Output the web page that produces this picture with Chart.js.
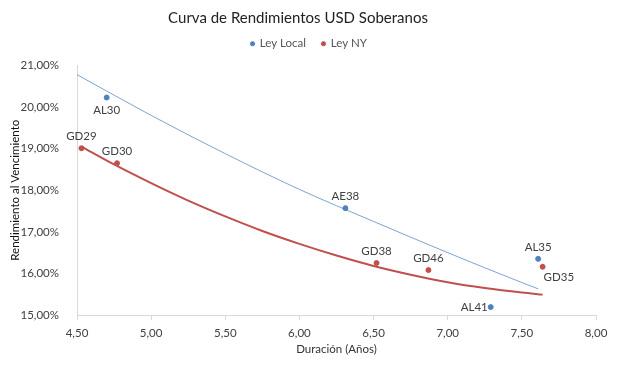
<!DOCTYPE html>
<html>
<head>
<meta charset="utf-8">
<script src="https://cdn.jsdelivr.net/npm/chart.js@4.4.1/dist/chart.umd.min.js"></script>
<style>
  html, body { margin: 0; padding: 0; background: #fff; }
  #wrap { width: 617px; height: 367px; }
</style>
</head>
<body>
<div id="wrap"><canvas id="yieldChart" width="617" height="367"></canvas></div>
<script>
// Bonos ley local
const bondsLocal = ["AL30", "AE38", "AL35", "AL41"];
const durLocal = [4.70, 6.31, 7.61, 7.29];
const ytmLocal = [20.23, 17.57, 16.35, 15.19];
const posLocal = ["below", "above", "above", "left"];

// Bonos ley NY
const bondsNY = ["GD29", "GD30", "GD38", "GD46", "GD35"];
const durNY = [4.53, 4.77, 6.52, 6.87, 7.64];
const ytmNY = [19.01, 18.65, 16.25, 16.08, 16.16];
const posNY = ["above", "above", "above", "above", "belowRight"];

// Curvas de tendencia
const trendLocalX = [4.50, 5.00, 5.50, 6.00, 6.50, 7.00, 7.50, 7.61];
const trendLocalY = [20.78, 19.80, 18.88, 18.02, 17.25, 16.50, 15.78, 15.63];
const trendNYX = [4.53, 4.75, 5.00, 5.25, 5.50, 5.75, 6.00, 6.25, 6.50, 6.75, 7.00, 7.25, 7.50, 7.64];
const trendNYY = [19.05, 18.62, 18.17, 17.75, 17.37, 17.02, 16.71, 16.43, 16.18, 15.97, 15.79, 15.65, 15.54, 15.49];

const xTicks = [4.5, 5, 5.5, 6, 6.5, 7, 7.5, 8];

const FONT = "Lato, 'Open Sans', sans-serif";
const BLUE = "#4f81bd";
const RED = "#c0504d";

function toPoints(xs, ys) {
    return xs.map((x, i) => ({ x: x, y: ys[i] }));
}

// espacio extra bajo la leyenda, y la centra un poco mas a la derecha
const legendGap = {
    id: "legendGap",
    beforeLayout(chart) {
        const lg = chart.legend;
        if (lg && !lg._gapDone) {
            const fit = lg.fit;
            lg.fit = function () {
                fit.call(this);
                this.height += 6;
                if (this.lineWidths && this.lineWidths.length) this.lineWidths[0] -= 22;
            };
            lg._gapDone = true;
        }
    }
};

// etiquetas de cada punto
const pointLabels = {
    id: "pointLabels",
    afterDatasetsDraw(chart) {
        const ctx = chart.ctx;
        const sets = [[bondsLocal, posLocal], [bondsNY, posNY]];
        ctx.save();
        ctx.font = "11.5px " + FONT;
        ctx.fillStyle = "#404040";
        sets.forEach(([names, pos], di) => {
            chart.getDatasetMeta(di).data.forEach((pt, i) => {
                let x = pt.x, y = pt.y;
                ctx.textAlign = "center";
                ctx.textBaseline = "middle";
                if (pos[i] === "above") y -= 12;
                else if (pos[i] === "below") y += 13;
                else if (pos[i] === "left") { ctx.textAlign = "right"; x -= 3; }
                else if (pos[i] === "belowRight") { ctx.textAlign = "left"; x += 1; y += 11; }
                ctx.fillText(names[i], x, y);
            });
        });
        ctx.restore();
    }
};

new Chart(document.getElementById("yieldChart"), {
    type: "scatter",
    data: {
        datasets: [
            {
                label: "Ley Local",
                data: toPoints(durLocal, ytmLocal),
                backgroundColor: BLUE,
                borderColor: BLUE,
                pointRadius: 2.5,
                order: 1
            },
            {
                label: "Ley NY",
                data: toPoints(durNY, ytmNY),
                backgroundColor: RED,
                borderColor: RED,
                pointRadius: 2.5,
                order: 1
            },
            {
                label: "Tendencia Local",
                data: toPoints(trendLocalX, trendLocalY),
                type: "line",
                showLine: true,
                borderColor: "#7da3d2",
                borderWidth: 1,
                pointRadius: 0,
                cubicInterpolationMode: "monotone",
                fill: false,
                order: 2
            },
            {
                label: "Tendencia NY",
                data: toPoints(trendNYX, trendNYY),
                type: "line",
                showLine: true,
                borderColor: RED,
                borderWidth: 2,
                pointRadius: 0,
                cubicInterpolationMode: "monotone",
                fill: false,
                order: 2
            }
        ]
    },
    options: {
        responsive: false,
        animation: false,
        layout: { padding: { top: 0, right: 21, bottom: 0, left: 0 } },
        plugins: {
            title: {
                display: true,
                text: "Curva de Rendimientos USD Soberanos",
                color: "#222",
                font: { family: FONT, size: 15, weight: "normal" },
                padding: { top: 9, bottom: -5 }
            },
            legend: {
                display: true,
                labels: {
                    filter: item => item.datasetIndex < 2,
                    usePointStyle: true,
                    pointStyle: "circle",
                    boxWidth: 3,
                    boxHeight: 3,
                    color: "#555",
                    padding: 16,
                    font: { family: FONT, size: 11.5 }
                }
            },
            tooltip: { enabled: false }
        },
        scales: {
            x: {
                type: "linear",
                min: 4.5,
                max: 8,
                afterBuildTicks: s => { s.ticks = xTicks.map(v => ({ value: v })); },
                afterFit: s => { s.height = 52; },
                grid: { display: true, drawOnChartArea: false, drawTicks: true, tickLength: 5, color: "#d9d9d9" },
                border: { display: true, color: "#d9d9d9" },
                ticks: {
                    color: "#404040",
                    padding: 6,
                    maxRotation: 0,
                    font: { family: FONT, size: 11.5 },
                    callback: v => v.toFixed(2).replace(".", ",")
                },
                title: {
                    display: true,
                    text: "Duración (Años)",
                    color: "#333",
                    font: { family: FONT, size: 11.5 },
                    padding: { top: 0, bottom: 11 }
                }
            },
            y: {
                min: 15,
                max: 21,
                afterFit: s => { s.width = 77; },
                grid: { display: false },
                border: { display: true, color: "#d9d9d9" },
                ticks: {
                    stepSize: 1,
                    color: "#404040",
                    padding: 10,
                    font: { family: FONT, size: 11.5 },
                    callback: v => v.toFixed(2).replace(".", ",") + "%"
                },
                title: {
                    display: true,
                    text: "Rendimiento al Vencimiento",
                    color: "#111",
                    font: { family: FONT, size: 11.5, weight: "normal" },
                    padding: { top: 8, bottom: 0 }
                }
            }
        }
    },
    plugins: [legendGap, pointLabels]
});
</script>
</body>
</html>
